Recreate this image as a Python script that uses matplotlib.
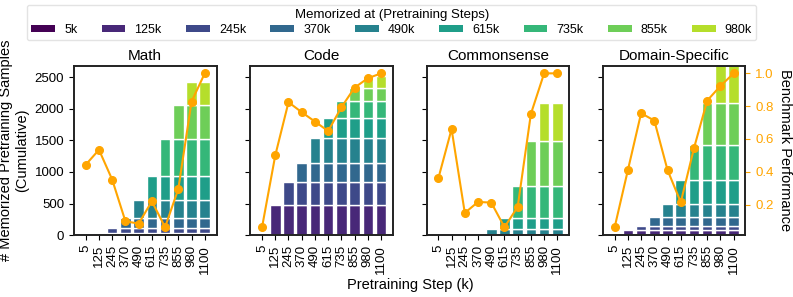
import numpy as np
import matplotlib
matplotlib.use("Agg")
import matplotlib.pyplot as plt
from matplotlib.patches import Patch

plt.rcParams["font.family"] = ["Liberation Sans", "DejaVu Sans"]

# x axis: pretraining checkpoints (k steps)
steps = ["5", "125", "245", "370", "490", "615", "735", "855", "980", "1100"]
# legend: step at which a sample was first memorized
mem_steps = ["5k", "125k", "245k", "370k", "490k", "615k", "735k", "855k", "980k"]
domains = ["Math", "Code", "Commonsense", "Domain-Specific"]

# cumulative memorized samples at each checkpoint
cum_math = [0, 37, 121, 279, 559, 938, 1518, 2061, 2419, 2419]
cum_code = [0, 474, 843, 1149, 1544, 1850, 2124, 2324, 2509, 2509]
cum_common = [0, 0, 0, 0, 100, 279, 780, 1491, 2087, 2087]
cum_domain = [0, 79, 148, 290, 501, 875, 1423, 2097, 2950, 2950]

# benchmark performance (normalised)
perf_math = [0.443, 0.534, 0.352, 0.098, 0.084, 0.220, 0.062, 0.295, 0.827, 1.0]
perf_code = [0.062, 0.500, 0.824, 0.763, 0.706, 0.648, 0.793, 0.913, 0.970, 1.0]
perf_common = [0.360, 0.660, 0.149, 0.216, 0.212, 0.062, 0.186, 0.753, 1.0, 1.0]
perf_domain = [0.062, 0.410, 0.757, 0.712, 0.410, 0.214, 0.544, 0.834, 0.923, 1.0]

cums = [cum_math, cum_code, cum_common, cum_domain]
perfs = [perf_math, perf_code, perf_common, perf_domain]

colors = plt.cm.viridis(np.linspace(0, 1, 10))[:9]
orange = "#FFA500"

fig, axes = plt.subplots(1, 4, figsize=(7.93, 2.97), dpi=100, sharey=True)
fig.subplots_adjust(left=0.0933, right=0.940, bottom=0.208, top=0.779, wspace=0.237)

x = np.arange(len(steps))
for i, ax in enumerate(axes):
    cum = np.array(cums[i], dtype=float)
    # segment height for samples memorized at each step
    seg = np.diff(np.concatenate([[0], cum[:9]]))
    for j in range(9):
        # bar at checkpoint k contains segments memorized up to k
        heights = np.where(np.arange(10) >= j, seg[j], 0.0)
        bottoms = np.array([seg[:j].sum() if k >= j else 0 for k in range(10)])
        ax.bar(x, heights, bottom=bottoms, width=0.8, color=colors[j],
               edgecolor="white", linewidth=1.0)
    ax.set_ylim(0, 2680)
    ax.set_xticks(x)
    ax.set_xticklabels(steps, rotation=90, fontsize=9.5)
    ax.tick_params(axis="y", labelsize=9.5)
    ax.set_title(domains[i], fontsize=11, pad=4)
    for s in ax.spines.values():
        s.set_linewidth(1.2)
        s.set_color("#222222")

    ax2 = ax.twinx()
    ax2.plot(x, perfs[i], color=orange, marker="o", markersize=5.5, linewidth=1.5)
    ax2.set_ylim(0.013, 1.047)
    if i < 3:
        ax2.set_yticks([])
    else:
        ax2.set_yticks([0.2, 0.4, 0.6, 0.8, 1.0])
        ax2.tick_params(axis="y", colors=orange, labelsize=9.5)
        ax2.set_ylabel("Benchmark Performance", rotation=270, labelpad=13, fontsize=10.5)
    for s in ax2.spines.values():
        s.set_linewidth(1.2)
        s.set_color("#222222")

axes[0].set_ylabel("# Memorized Pretraining Samples\n(Cumulative)", fontsize=10.5)
fig.text(0.517, 0.04, "Pretraining Step (k)", ha="center", va="center", fontsize=10.5)

handles = [Patch(facecolor=c) for c in colors]
fig.legend(handles, mem_steps, loc="upper center", bbox_to_anchor=(0.494, 1.005),
           ncol=9, fontsize=9, title="Memorized at (Pretraining Steps)",
           title_fontsize=9.5, handlelength=1.9, handleheight=0.5,
           handletextpad=0.72, columnspacing=1.95, frameon=True,
           edgecolor="#dddddd", borderpad=0.35, labelspacing=0.2)

fig.savefig("out.png", dpi=100)
